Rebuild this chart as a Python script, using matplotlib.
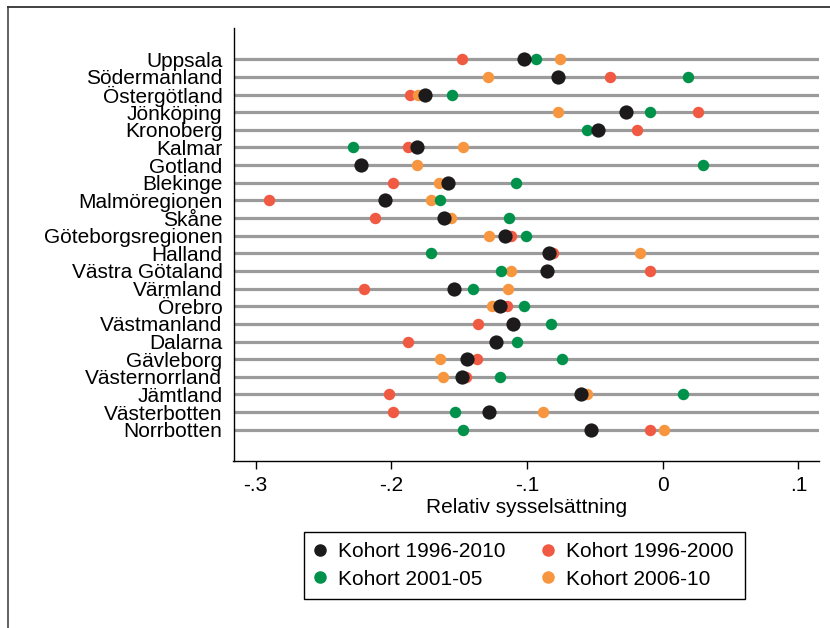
import matplotlib
matplotlib.use('Agg')
import matplotlib.pyplot as plt
from matplotlib.lines import Line2D
import numpy as np

plt.rcParams['font.family'] = ['Liberation Sans', 'DejaVu Sans']

# regions, top to bottom
regioner = ['Uppsala', 'Södermanland', 'Östergötland', 'Jönköping', 'Kronoberg',
            'Kalmar', 'Gotland', 'Blekinge', 'Malmöregionen', 'Skåne',
            'Göteborgsregionen', 'Halland', 'Västra Götaland', 'Värmland', 'Örebro',
            'Västmanland', 'Dalarna', 'Gävleborg', 'Västernorrland', 'Jämtland',
            'Västerbotten', 'Norrbotten']

# relativ sysselsättning per kohort (avläst)
k_1996_2010 = [-0.102, -0.077, -0.175, -0.027, -0.048, -0.181, -0.222, -0.158, -0.205, -0.161,
               -0.116, -0.084, -0.085, -0.154, -0.120, -0.110, -0.123, -0.144, -0.148, -0.060,
               -0.128, -0.053]
k_1996_2000 = [-0.148, -0.039, -0.186, 0.026, -0.019, -0.188, -0.222, -0.199, -0.290, -0.212,
               -0.112, -0.081, -0.009, -0.220, -0.115, -0.136, -0.188, -0.137, -0.145, -0.202,
               -0.199, -0.009]
k_2001_05 = [-0.093, 0.019, -0.155, -0.009, -0.056, -0.228, 0.030, -0.108, -0.164, -0.113,
             -0.101, -0.171, -0.119, -0.140, -0.102, -0.082, -0.107, -0.074, -0.120, 0.015,
             -0.153, -0.147]
k_2006_10 = [-0.076, -0.129, -0.180, -0.077, -0.048, -0.147, -0.181, -0.165, -0.171, -0.156,
             -0.128, -0.017, -0.112, -0.114, -0.126, -0.110, -0.123, -0.164, -0.162, -0.056,
             -0.088, 0.001]

xticks = [-0.3, -0.2, -0.1, 0, 0.1]
xticklabels = ['-.3', '-.2', '-.1', '0', '.1']

svart = '#1c1a1b'
rod = '#f15a42'
gron = '#00914a'
orange = '#f7963f'

fig = plt.figure(figsize=(8.3, 6.28), dpi=100)
ax = fig.add_axes([233.5/830, 1-461/628, (819-233.5)/830, (461-28)/628])

y = np.arange(1, len(regioner)+1)
for yy in y:
    ax.axhline(yy, color='#9b9b9b', lw=2.3, zorder=1)

ax.scatter(k_1996_2000, y, s=68, color=rod, zorder=3, linewidths=0)
ax.scatter(k_2006_10, y, s=68, color=orange, zorder=4, linewidths=0)
ax.scatter(k_2001_05, y, s=68, color=gron, zorder=5, linewidths=0)
ax.scatter(k_1996_2010, y, s=105, color=svart, zorder=6, linewidths=0)

ax.set_ylim(len(regioner)+1.77, 1-1.77)
ax.set_xlim(-0.3163, 0.1152)
ax.set_yticks(y)
ax.set_yticklabels(regioner, fontsize=15)
ax.tick_params(axis='y', length=0, pad=8)
ax.set_xticks(xticks)
ax.set_xticklabels(xticklabels, fontsize=15)
ax.tick_params(axis='x', length=6, width=1, pad=5)
ax.set_xlabel('Relativ sysselsättning', fontsize=15, labelpad=2)

for s in ['top', 'right']:
    ax.spines[s].set_visible(False)
ax.spines['left'].set_linewidth(1)
ax.spines['bottom'].set_linewidth(1)

# ram runt figuren (beskuren)
fig.add_artist(Line2D([8/830, 8/830], [0, 1-7/628], transform=fig.transFigure, color='#555555', lw=1.3))
fig.add_artist(Line2D([8/830, 1], [1-7/628, 1-7/628], transform=fig.transFigure, color='#333333', lw=1.3))

handles = [
    Line2D([], [], marker='o', ls='', color=svart, markersize=8, label='Kohort 1996-2010'),
    Line2D([], [], marker='o', ls='', color=gron, markersize=8, label='Kohort 2001-05'),
    Line2D([], [], marker='o', ls='', color=rod, markersize=8, label='Kohort 1996-2000'),
    Line2D([], [], marker='o', ls='', color=orange, markersize=8, label='Kohort 2006-10'),
]
leg = fig.legend(handles=handles, ncol=2, loc='upper left', bbox_to_anchor=(304/830, 1-532/628),
                 frameon=True, fancybox=False, edgecolor='black', framealpha=1,
                 prop={'size': 15}, handletextpad=0.63, columnspacing=1.8,
                 borderpad=0.5, borderaxespad=0, handlelength=0.5, labelspacing=0.4)
leg.get_frame().set_linewidth(1)

fig.savefig('out.png', dpi=100)
